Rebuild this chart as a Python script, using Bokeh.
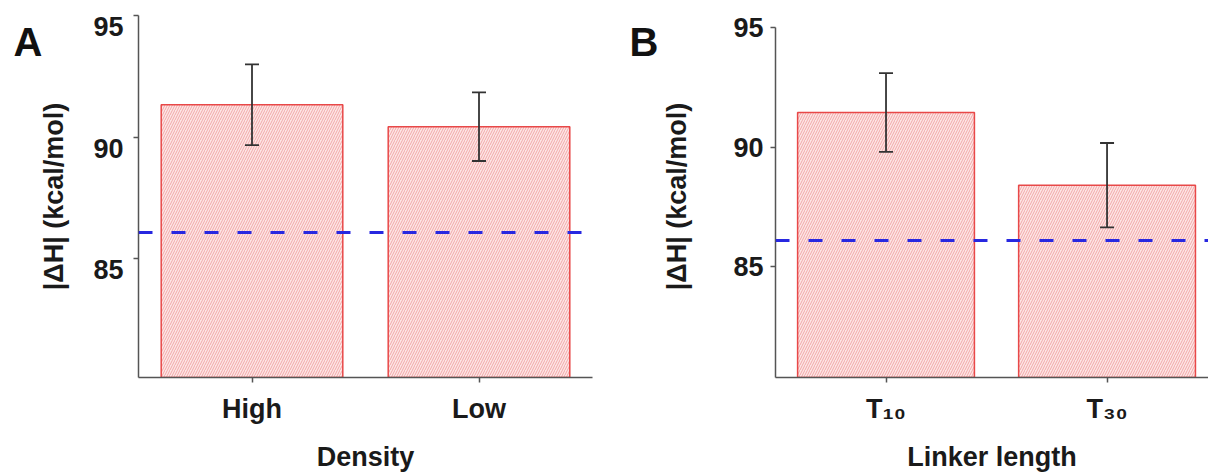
from bokeh.plotting import figure
from bokeh.layouts import row
from bokeh.models import (Range1d, FixedTicker, Whisker, Span, ColumnDataSource, TeeHead,
                          LinearAxis)
from bokeh.embed import file_html
from bokeh.resources import INLINE

# ---- data ----
density_cats = ["High", "Low"]
density_vals = [91.33, 90.43]
density_err = [1.66, 1.41]

linker_cats = ["T\u2081\u2080", "T\u2083\u2080"]
linker_vals = [91.45, 88.4]
linker_err = [1.65, 1.77]

reference_level = 86.08
y_ticks = [85, 90, 95]
panel_letters = ["A", "B"]
x_titles = ["Density", "Linker length"]
y_title = "|\u0394H| (kcal/mol)"

FONT = "Liberation Sans"
TXT = "#1a1a1a"
AX = "#555555"


def style_axis(ax, size="27px"):
    ax.axis_line_color = AX
    ax.axis_line_width = 1.5
    ax.major_tick_line_color = AX
    ax.major_tick_line_width = 1.5
    ax.major_tick_in = 0
    ax.major_tick_out = 5
    ax.minor_tick_line_color = None
    ax.major_label_text_font = FONT
    ax.major_label_text_font_style = "bold"
    ax.major_label_text_font_size = size
    ax.major_label_text_color = TXT
    ax.axis_label_text_font = FONT
    ax.axis_label_text_font_style = "bold"
    ax.axis_label_text_font_size = "27px"
    ax.axis_label_text_color = TXT


def bare_axis(ax):
    ax.axis_line_color = None
    ax.major_tick_line_color = None
    ax.major_tick_in = 0
    ax.major_tick_out = 0
    ax.minor_tick_line_color = None


def letter_axis(letter, pos, standoff):
    ax = LinearAxis(ticker=FixedTicker(ticks=[pos]), major_label_overrides={pos: letter})
    style_axis(ax, size="40px")
    bare_axis(ax)
    ax.major_label_text_color = "#111111"
    ax.major_label_standoff = standoff
    return ax


def make_panel(cats, vals, errs, xtitle, width, bl, br, ystart, yend):
    p = figure(width=width, height=474, output_backend="svg", toolbar_location=None,
               x_range=Range1d(-0.5, 1.5), y_range=Range1d(ystart, yend),
               min_border_left=bl, min_border_right=br, min_border_top=15,
               min_border_bottom=96)
    p.outline_line_color = None
    p.grid.visible = False
    p.background_fill_color = "white"
    p.border_fill_color = "white"

    xs = list(range(len(cats)))
    src = ColumnDataSource(dict(x=xs, top=vals,
                                upper=[v + e for v, e in zip(vals, errs)],
                                lower=[v - e for v, e in zip(vals, errs)]))
    p.vbar(x="x", top="top", bottom=ystart - 1, width=0.8, source=src,
           fill_color="#fde6e6", line_color="#e84848", line_width=1.5,
           hatch_pattern="/", hatch_color="#f2a8a8", hatch_scale=5, hatch_weight=1)

    p.add_layout(Whisker(base="x", upper="upper", lower="lower", source=src,
                         level="overlay", line_color="#333333", line_width=1.8,
                         upper_head=TeeHead(size=14, line_color="#333333", line_width=1.8),
                         lower_head=TeeHead(size=14, line_color="#333333", line_width=1.8)))

    p.add_layout(Span(location=reference_level, dimension="width", line_color="#2828e0",
                      line_width=3, line_dash="14 19", level="overlay"))

    style_axis(p.xaxis[0])
    style_axis(p.yaxis[0])
    p.xaxis.ticker = FixedTicker(ticks=xs)
    p.xaxis.major_label_overrides = {i: c for i, c in enumerate(cats)}
    p.xaxis.major_label_standoff = 11
    p.xaxis.axis_label = xtitle
    p.xaxis.axis_label_standoff = 15
    p.yaxis.ticker = FixedTicker(ticks=y_ticks)
    return p


# ---------- panel A ----------
pa = make_panel(density_cats, density_vals, density_err, x_titles[0],
                width=620, bl=138, br=28, ystart=80.12, yend=95)
# tick marks only on the main axis; labels sit slightly below their ticks (as in the figure)
pa.yaxis[0].major_label_overrides = {t: "" for t in y_ticks}
pa.yaxis[0].major_label_standoff = 0
label_pos = [round(t - 0.45, 2) for t in y_ticks]
ya2 = LinearAxis(ticker=FixedTicker(ticks=label_pos),
                 major_label_overrides={lp: str(t) for lp, t in zip(label_pos, y_ticks)})
style_axis(ya2)
bare_axis(ya2)
ya2.major_label_standoff = 10
ya2.axis_label = y_title
ya2.axis_label_standoff = 21
pa.add_layout(ya2, "left")
pa.add_layout(letter_axis(panel_letters[0], 93.9, -6), "left")

# ---------- panel B ----------
pb = make_panel(linker_cats, linker_vals, linker_err, x_titles[1],
                width=588, bl=155, br=0, ystart=80.33, yend=95.52)
pb.x_range.end = 1.459
pb.yaxis[0].bounds = (80.33, 95)
pb.yaxis[0].major_label_standoff = 7
pb.yaxis[0].axis_label = y_title
pb.yaxis[0].axis_label_standoff = 38
pb.add_layout(letter_axis(panel_letters[1], 94.4, 1), "left")

layout = row(pa, pb)
open("out.html", "w").write(file_html(layout, INLINE))
